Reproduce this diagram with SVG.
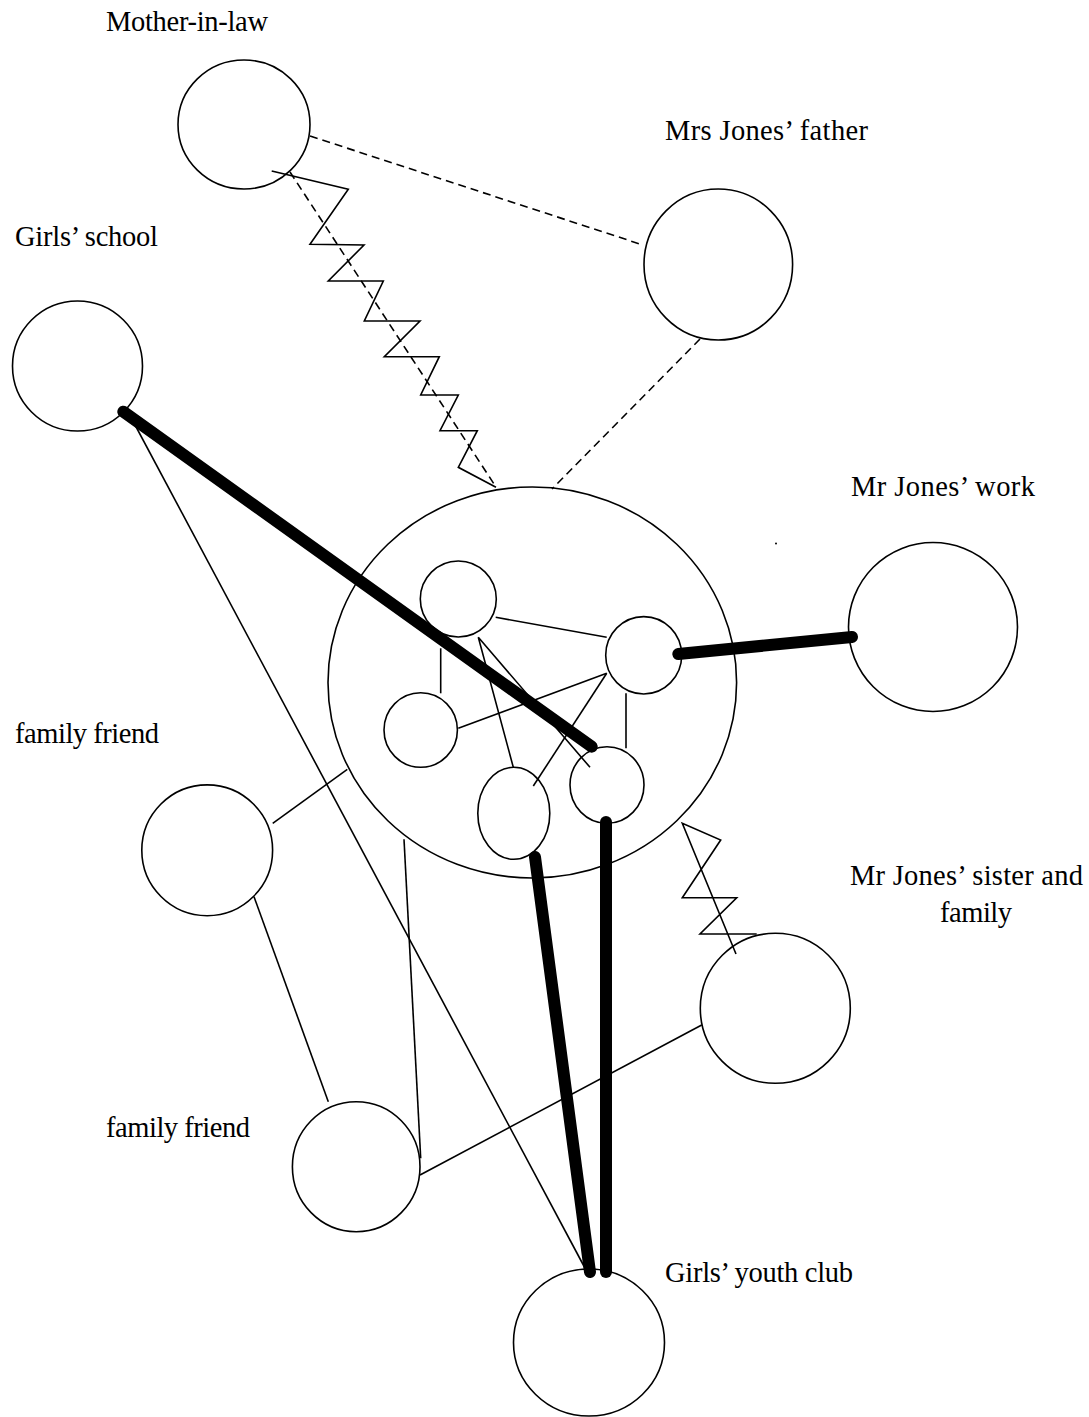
<svg xmlns="http://www.w3.org/2000/svg" width="1089" height="1417" viewBox="0 0 1089 1417">
<style>
.n{fill:#fff;stroke:#000;stroke-width:1.6}
.t{font-family:"Liberation Serif","Times New Roman",serif;font-size:28.5px;fill:#000}
.c{fill:none;stroke:#000;stroke-width:1.6}
.d{fill:none;stroke:#000;stroke-width:1.6;stroke-dasharray:8 5}
.k{fill:none;stroke:#000;stroke-width:12;stroke-linecap:round}
</style>
<rect width="1089" height="1417" fill="#fff"/>
<g id="nodes-back">
<g id="mother-in-law"><ellipse class="n" cx="244" cy="124.5" rx="66" ry="64.5"/><text class="t" x="106" y="31" textLength="162">Mother-in-law</text></g>
<g id="mrs-jones-father"><ellipse class="n" cx="718.3" cy="264.5" rx="74.3" ry="75.5"/><text class="t" x="665" y="140" textLength="203">Mrs Jones’ father</text></g>
<g id="girls-school"><circle class="n" cx="77.5" cy="366" r="65"/><text class="t" x="15" y="246" textLength="143">Girls’ school</text></g>
<g id="mr-jones-work"><circle class="n" cx="933" cy="627" r="84.5"/><text class="t" x="851" y="496" textLength="184">Mr Jones’ work</text><circle cx="776" cy="543.5" r="1" fill="#000"/></g>
<g id="family-friend-1"><circle class="n" cx="207.2" cy="850.3" r="65.4"/><text class="t" x="15" y="743" textLength="144">family friend</text></g>
<g id="family-friend-2"><ellipse class="n" cx="356.2" cy="1166.7" rx="63.8" ry="65"/><text class="t" x="106" y="1137" textLength="144">family friend</text></g>
<g id="mr-jones-sister"><circle class="n" cx="775.3" cy="1008.3" r="75"/><text class="t" x="850" y="885" textLength="233">Mr Jones’ sister and</text><text class="t" x="940" y="922" textLength="72">family</text></g>
<g id="girls-youth-club"><ellipse class="n" cx="589" cy="1342.5" rx="75.5" ry="73.5"/><text class="t" x="665" y="1282" textLength="188">Girls’ youth club</text></g>
<g id="jones-household"><ellipse class="n" cx="532.3" cy="682.5" rx="204.3" ry="195.5"/></g>
</g>
<g id="household-members">
<g id="member-a"><circle class="n" cx="458.3" cy="599" r="38"/></g>
<g id="member-b"><ellipse class="n" cx="643.7" cy="655.3" rx="38" ry="38.7"/></g>
<g id="member-c"><ellipse class="n" cx="420.7" cy="730" rx="36.7" ry="37.3"/></g>
<g id="member-d"><ellipse class="n" cx="513.8" cy="813.3" rx="36" ry="46"/></g>
<g id="member-e"><ellipse class="n" cx="607" cy="785" rx="37" ry="38.3"/></g>
</g>
<g id="connectors">
<line class="d" x1="310" y1="136" x2="643" y2="245"/>
<line class="d" x1="290" y1="172" x2="496" y2="487"/>
<line class="d" x1="700" y1="339" x2="552" y2="489"/>
<polyline class="c" points="271.7,171 348.3,189.3 310,244.3 364,245 328.3,281 383.3,281 364.3,321 420,321 384.3,356.7 439.3,356.7 420.7,395 458.3,395 440,430.7 477.3,430.7 458.3,467.3 496,487.3"/>
<polyline class="c" points="756.7,934 700,934 736.7,897.7 682.3,897.7 720.7,840 682.3,823.3 736,954"/>
<line class="c" x1="495.7" y1="617.3" x2="606.7" y2="637.3"/>
<line class="c" x1="440.7" y1="648.3" x2="440.7" y2="693.3"/>
<polyline class="c" points="513.3,767.3 478.3,637.3 590,767.3"/>
<line class="c" x1="458.3" y1="728.3" x2="606.7" y2="673.3"/>
<line class="c" x1="533.3" y1="786" x2="606.7" y2="673.3"/>
<line class="c" x1="626" y1="693.3" x2="626" y2="748.3"/>
<line class="c" x1="272.7" y1="823.3" x2="347.3" y2="769.3"/>
<line class="c" x1="254" y1="896.7" x2="328.3" y2="1101.7"/>
<line class="c" x1="404" y1="839.3" x2="420.7" y2="1158.3"/>
<line class="c" x1="420" y1="1175" x2="701.7" y2="1025"/>
<line class="c" x1="126" y1="408" x2="586" y2="1270"/>
<line class="k" x1="123.3" y1="411.7" x2="591.7" y2="746.7"/>
<line class="k" x1="678.3" y1="654" x2="852" y2="637"/>
<line class="k" x1="535" y1="857" x2="590" y2="1272"/>
<line class="k" x1="606" y1="822" x2="606" y2="1272"/>
</g>
</svg>
